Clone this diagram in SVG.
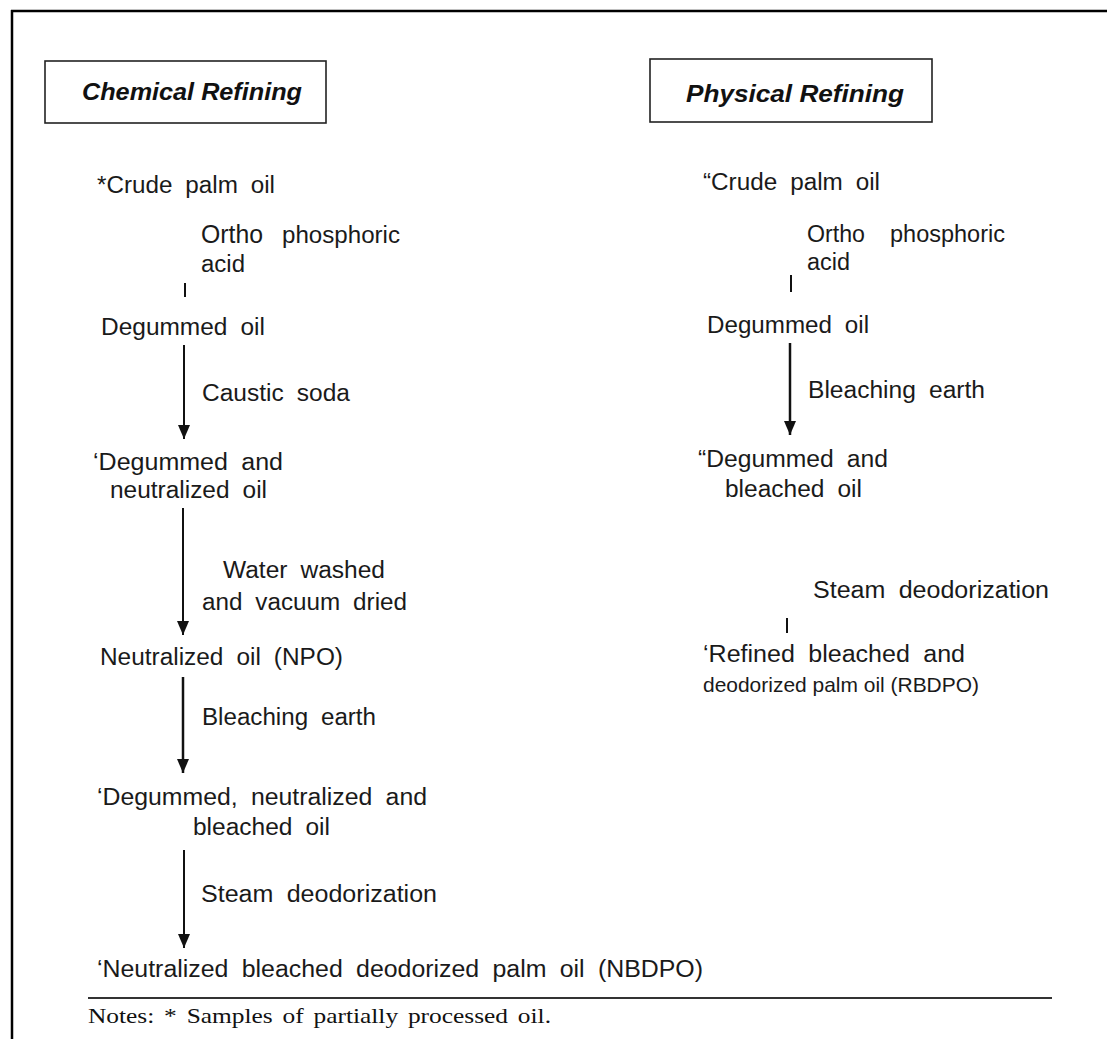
<svg xmlns="http://www.w3.org/2000/svg" width="1107" height="1039" viewBox="0 0 1107 1039">
<style>
.t{font-family:"Liberation Sans",Arial,sans-serif;font-size:23.5px;word-spacing:6px;fill:#1a1a1a}
.h{font-family:"Liberation Sans",Arial,sans-serif;font-size:24px;font-weight:bold;font-style:italic;fill:#111}
.n{font-family:"Liberation Serif","Times New Roman",serif;font-size:22px;word-spacing:3px;fill:#111}
.box{fill:#fff;stroke:#222;stroke-width:1.6}
.c{stroke:#111;stroke-width:2;fill:none}
</style>
<defs>
<marker id="ah" viewBox="0 0 14 12" refX="14" refY="6" markerWidth="14" markerHeight="12" markerUnits="userSpaceOnUse" orient="auto">
<path d="M0,0 L14,6 L0,12 Z" fill="#111"/>
</marker>
</defs>
<rect x="0" y="0" width="1107" height="1039" fill="#fff"/>
<line x1="11" y1="11" x2="1107" y2="11" stroke="#000" stroke-width="2.5"/>
<line x1="12" y1="10" x2="12" y2="1039" stroke="#000" stroke-width="2.5"/>

<g id="chem-title"><rect class="box" x="45" y="61" width="281" height="62"/><text class="h" x="82" y="100" textLength="220" lengthAdjust="spacingAndGlyphs">Chemical Refining</text></g>
<g id="phys-title"><rect class="box" x="650" y="59" width="282" height="63"/><text class="h" x="686" y="102" textLength="218" lengthAdjust="spacingAndGlyphs">Physical Refining</text></g>

<g id="c-crude"><text class="t" x="97" y="193" textLength="178" lengthAdjust="spacingAndGlyphs">*Crude palm oil</text></g>
<g id="c-acid"><text class="t" x="201" y="243" style="font-size:25px" textLength="62" lengthAdjust="spacingAndGlyphs">Ortho</text><text class="t" x="282" y="243" textLength="118" lengthAdjust="spacingAndGlyphs">phosphoric</text><text class="t" x="201" y="272" textLength="44" lengthAdjust="spacingAndGlyphs">acid</text></g>
<g id="c-degummed"><text class="t" x="101" y="335" textLength="164" lengthAdjust="spacingAndGlyphs">Degummed oil</text></g>
<g id="c-caustic"><text class="t" x="202" y="401" textLength="148" lengthAdjust="spacingAndGlyphs">Caustic soda</text></g>
<g id="c-dn"><text class="t" x="93" y="470" textLength="190" lengthAdjust="spacingAndGlyphs">‘Degummed and</text><text class="t" x="110" y="498" textLength="157" lengthAdjust="spacingAndGlyphs">neutralized oil</text></g>
<g id="c-water"><text class="t" x="223" y="578" textLength="162" lengthAdjust="spacingAndGlyphs">Water washed</text><text class="t" x="202" y="610" textLength="205" lengthAdjust="spacingAndGlyphs">and vacuum dried</text></g>
<g id="c-npo"><text class="t" x="100" y="665" textLength="243" lengthAdjust="spacingAndGlyphs">Neutralized oil (NPO)</text></g>
<g id="c-bleach"><text class="t" x="202" y="725" textLength="174" lengthAdjust="spacingAndGlyphs">Bleaching earth</text></g>
<g id="c-dnb"><text class="t" x="97" y="805" textLength="330" lengthAdjust="spacingAndGlyphs">‘Degummed, neutralized and</text><text class="t" x="193" y="835" textLength="137" lengthAdjust="spacingAndGlyphs">bleached oil</text></g>
<g id="c-steam"><text class="t" x="201" y="902" textLength="236" lengthAdjust="spacingAndGlyphs">Steam deodorization</text></g>
<g id="c-nbdpo"><text class="t" x="97" y="977" textLength="606" lengthAdjust="spacingAndGlyphs">‘Neutralized bleached deodorized palm oil (NBDPO)</text></g>

<g id="p-crude"><text class="t" x="703" y="190" textLength="177" lengthAdjust="spacingAndGlyphs">“Crude palm oil</text></g>
<g id="p-acid"><text class="t" x="807" y="242" textLength="58" lengthAdjust="spacingAndGlyphs">Ortho</text><text class="t" x="890" y="242" textLength="115" lengthAdjust="spacingAndGlyphs">phosphoric</text><text class="t" x="807" y="270" textLength="43" lengthAdjust="spacingAndGlyphs">acid</text></g>
<g id="p-degummed"><text class="t" x="707" y="333" textLength="162" lengthAdjust="spacingAndGlyphs">Degummed oil</text></g>
<g id="p-bleach"><text class="t" x="808" y="398" textLength="177" lengthAdjust="spacingAndGlyphs">Bleaching earth</text></g>
<g id="p-db"><text class="t" x="698" y="467" textLength="190" lengthAdjust="spacingAndGlyphs">“Degummed and</text><text class="t" x="725" y="497" textLength="137" lengthAdjust="spacingAndGlyphs">bleached oil</text></g>
<g id="p-steam"><text class="t" x="813" y="598" textLength="236" lengthAdjust="spacingAndGlyphs">Steam deodorization</text></g>
<g id="p-rbdpo"><text class="t" x="703" y="662" textLength="262" lengthAdjust="spacingAndGlyphs">‘Refined bleached and</text><text class="t" x="703" y="692" style="font-size:21px;word-spacing:0px" textLength="276" lengthAdjust="spacingAndGlyphs">deodorized palm oil (RBDPO)</text></g>

<g id="connectors">
<line class="c" x1="185" y1="283" x2="185" y2="297"/>
<line class="c" x1="184" y1="345" x2="184" y2="439" marker-end="url(#ah)"/>
<line class="c" x1="183" y1="508" x2="183" y2="635" marker-end="url(#ah)"/>
<line class="c" x1="183" y1="677" x2="183" y2="773" marker-end="url(#ah)" style="stroke-width:2.5"/>
<line class="c" x1="184" y1="850" x2="184" y2="948" marker-end="url(#ah)"/>
<line class="c" x1="791" y1="275" x2="791" y2="292"/>
<line class="c" x1="790" y1="343" x2="790" y2="435" marker-end="url(#ah)" style="stroke-width:2.5"/>
<line class="c" x1="787" y1="618" x2="787" y2="633"/>
</g>

<g id="notes">
<line x1="88" y1="998" x2="1052" y2="998" stroke="#333" stroke-width="2"/>
<text class="n" x="88" y="1023" textLength="463" lengthAdjust="spacingAndGlyphs">Notes: * Samples of partially processed oil.</text>
</g>
</svg>
